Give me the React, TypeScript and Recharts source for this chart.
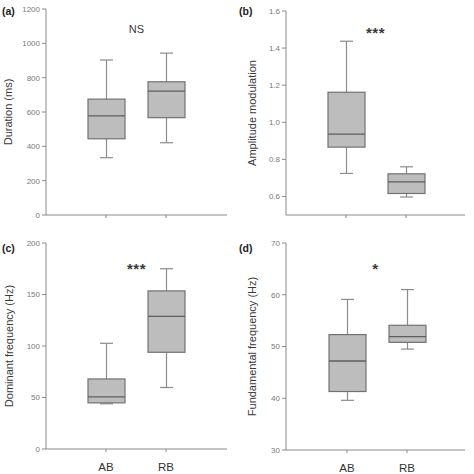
import React from "react";
import { ComposedChart, Bar, XAxis, YAxis } from "recharts";

// Five-number summaries per group: [min, q1, median, q3, max]
const groups = ["AB", "RB"];
const durationStats = [
  [334, 444, 577, 675, 903],
  [421, 567, 722, 776, 943],
];
const amplitudeStats = [
  [0.724, 0.866, 0.936, 1.162, 1.437],
  [0.597, 0.616, 0.679, 0.722, 0.76],
];
const dominantStats = [
  [43.9, 44.8, 50.6, 68, 102.6],
  [59.7, 93.9, 128.7, 153.5, 175],
];
const fundamentalStats = [
  [39.6, 41.3, 47.2, 52.3, 59.1],
  [49.5, 50.8, 51.9, 54.1, 61],
];

const durationTicks = [0, 200, 400, 600, 800, 1000, 1200];
const amplitudeTicks = [0.6, 0.8, 1.0, 1.2, 1.4, 1.6];
const dominantTicks = [0, 50, 100, 150, 200];
const fundamentalTicks = [30, 40, 50, 60, 70];

const FONT = "'Liberation Sans', Arial, Helvetica, sans-serif";

const toRows = (stats: number[][]) =>
  stats.map(([min, q1, median, q3, max], i) => ({
    group: groups[i],
    range: [min, max],
    min,
    q1,
    median,
    q3,
    max,
  }));

// draws whiskers + box from the bar's [min, max] geometry
const BoxShape = (props: any) => {
  const { x, y, width, height, payload } = props;
  const { min, q1, median, q3, max } = payload;
  const k = height / (max - min);
  const py = (v: number) => y + (max - v) * k;
  const cx = x + width / 2;
  const cap = 6.5;
  const whisker = "#8c8c8c";
  return (
    <g>
      <line x1={cx} x2={cx} y1={py(max)} y2={py(q3)} stroke={whisker} strokeWidth={1.2} />
      <line x1={cx} x2={cx} y1={py(q1)} y2={py(min)} stroke={whisker} strokeWidth={1.2} />
      <line x1={cx - cap} x2={cx + cap} y1={py(max)} y2={py(max)} stroke={whisker} strokeWidth={1.2} />
      <line x1={cx - cap} x2={cx + cap} y1={py(min)} y2={py(min)} stroke={whisker} strokeWidth={1.2} />
      <rect
        x={x}
        y={py(q3)}
        width={width}
        height={py(q1) - py(q3)}
        fill="#bdbdbd"
        stroke="#727272"
        strokeWidth={1.2}
      />
      <line x1={x} x2={x + width} y1={py(median)} y2={py(median)} stroke="#5e5e5e" strokeWidth={1.3} />
    </g>
  );
};

interface PanelProps {
  tag: string;
  stats: number[][];
  domain: [number, number];
  ticks: number[];
  yLabel: string;
  signif: string;
  left: number;
  top: number;
  margin: { top: number; right: number };
  yWidth: number;
  xHeight: number;
  pad: { left: number; right: number };
  labelOffset: number;
  showX: boolean;
  signifTop: number;
}

const Panel = (p: PanelProps) => {
  const axisColor = "#8a8a8a";
  const plotCenter = p.yWidth + (237 - p.yWidth - p.margin.right) / 2;
  return (
    <div style={{ position: "absolute", left: p.left, top: p.top, width: 237, height: 237 }}>
      <ComposedChart
        width={237}
        height={237}
        data={toRows(p.stats)}
        margin={{ top: p.margin.top, right: p.margin.right, bottom: 0, left: 0 }}
      >
        <XAxis
          dataKey="group"
          height={p.xHeight}
          padding={p.pad}
          axisLine={{ stroke: axisColor }}
          tickLine={{ stroke: axisColor }}
          tickSize={3}
          tickMargin={11}
          tick={{ fill: "#333", fontSize: 11.5, fontFamily: FONT }}
          tickFormatter={(v: string) => (p.showX ? v : "")}
        />
        <YAxis
          type="number"
          domain={p.domain}
          ticks={p.ticks}
          width={p.yWidth}
          interval={0}
          axisLine={{ stroke: axisColor }}
          tickLine={{ stroke: axisColor }}
          tickSize={4}
          tickMargin={2}
          tick={{ fill: "#7a7a7a", fontSize: 8, fontFamily: FONT }}
          tickFormatter={(v: number) => (p.domain[1] < 5 ? v.toFixed(1) : String(v))}
          label={{
            value: p.yLabel,
            angle: -90,
            position: "insideLeft",
            offset: p.labelOffset,
            style: { textAnchor: "middle", fill: "#3a3a3a", fontSize: 11, fontFamily: FONT },
          }}
        />
        <Bar dataKey="range" barSize={37} shape={BoxShape} isAnimationActive={false} />
      </ComposedChart>
      <div
        style={{
          position: "absolute",
          left: 2,
          top: 5,
          fontFamily: FONT,
          fontWeight: "bold",
          fontSize: 10.5,
          color: "#222",
        }}
      >
        {p.tag}
      </div>
      <div
        style={{
          position: "absolute",
          left: plotCenter - 30,
          width: 60,
          top: p.signifTop,
          textAlign: "center",
          fontFamily: FONT,
          fontSize: p.signif === "NS" ? 11 : 15,
          fontWeight: p.signif === "NS" ? "normal" : "bold",
          letterSpacing: p.signif === "NS" ? 0 : 0.5,
          color: "#3a3a3a",
          lineHeight: 1,
        }}
      >
        {p.signif}
      </div>
    </div>
  );
};

export default function App() {
  return (
    <div style={{ position: "absolute", left: 0, top: 0, width: 474, height: 474, background: "#fff" }}>
      <Panel
        tag="(a)"
        stats={durationStats}
        domain={[0, 1200]}
        ticks={durationTicks}
        yLabel="Duration (ms)"
        signif="NS"
        left={0}
        top={0}
        margin={{ top: 9, right: 10 }}
        yWidth={46}
        xHeight={22}
        pad={{ left: 30, right: 31 }}
        labelOffset={8}
        showX={false}
        signifTop={24}
      />
      <Panel
        tag="(b)"
        stats={amplitudeStats}
        domain={[0.5, 1.6]}
        ticks={amplitudeTicks}
        yLabel="Amplitude modulation"
        signif="***"
        left={237}
        top={0}
        margin={{ top: 11, right: 9 }}
        yWidth={49}
        xHeight={22}
        pad={{ left: 30, right: 29 }}
        labelOffset={15}
        showX={false}
        signifTop={25}
      />
      <Panel
        tag="(c)"
        stats={dominantStats}
        domain={[0, 200]}
        ticks={dominantTicks}
        yLabel="Dominant frequency (Hz)"
        signif="***"
        left={0}
        top={237}
        margin={{ top: 6, right: 10 }}
        yWidth={46}
        xHeight={25}
        pad={{ left: 30, right: 31 }}
        labelOffset={9}
        showX={true}
        signifTop={24}
      />
      <Panel
        tag="(d)"
        stats={fundamentalStats}
        domain={[30, 70]}
        ticks={fundamentalTicks}
        yLabel="Fundamental frequency (Hz)"
        signif="*"
        left={237}
        top={237}
        margin={{ top: 6, right: 9 }}
        yWidth={49}
        xHeight={24}
        pad={{ left: 31, right: 28 }}
        labelOffset={15}
        showX={true}
        signifTop={24}
      />
    </div>
  );
}
